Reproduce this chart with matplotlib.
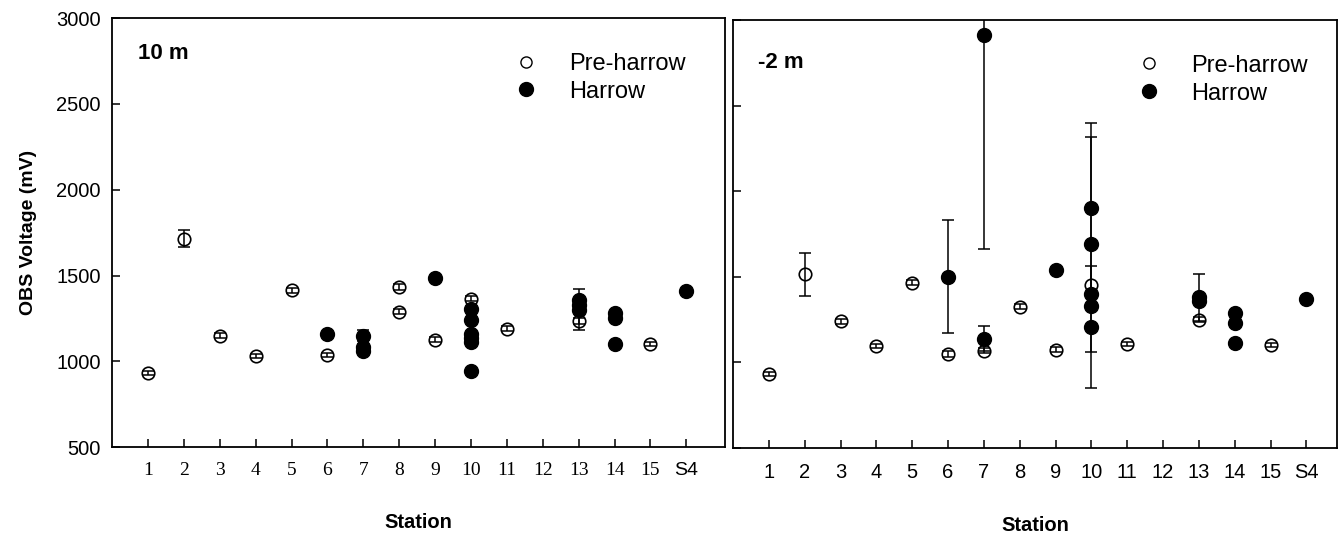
import matplotlib
matplotlib.use('Agg')
import matplotlib.pyplot as plt
from matplotlib.lines import Line2D

# Station tick labels (positions 1..16)
STATIONS = ['1', '2', '3', '4', '5', '6', '7', '8', '9', '10',
            '11', '12', '13', '14', '15', 'S4']

# 10 m panel
pre_x_10 = [1, 2, 3, 4, 5, 6, 7, 8, 8, 9, 10, 11, 13, 15]
pre_y_10 = [930, 1715, 1150, 1030, 1415, 1035, 1075, 1435, 1290, 1125, 1365, 1190, 1235, 1100]
pre_err_10 = [12, 50, 15, 12, 15, 12, 15, 18, 15, 15, 15, 15, 18, 12]
har_x_10 = [6, 7, 7, 7, 9, 10, 10, 10, 10, 10, 10, 13, 13, 13, 14, 14, 14, 16]
har_y_10 = [1160, 1150, 1085, 1062, 1485, 1305, 1240, 1160, 1135, 1115, 945,
            1360, 1330, 1300, 1280, 1250, 1100, 1410]
har_lo_10 = [0, 30, 0, 0, 0, 0, 0, 0, 0, 0, 0, 0, 0, 120, 0, 0, 0, 0]
har_hi_10 = [0, 30, 0, 0, 0, 0, 0, 0, 0, 0, 0, 0, 0, 120, 0, 0, 0, 0]

# -2 m panel
pre_x_2 = [1, 2, 3, 4, 5, 6, 7, 8, 9, 10, 11, 13, 15]
pre_y_2 = [935, 1515, 1240, 1095, 1465, 1050, 1070, 1325, 1075, 1450, 1110, 1250, 1100]
pre_err_2 = [12, 125, 15, 12, 15, 15, 15, 15, 15, 115, 12, 15, 12]
har_x_2 = [6, 7, 7, 9, 10, 10, 10, 10, 10, 13, 13, 14, 14, 14, 16]
har_y_2 = [1500, 2915, 1140, 1540, 1900, 1690, 1400, 1330, 1210, 1380, 1360, 1290, 1230, 1115, 1370]
har_lo_2 = [330, 1250, 75, 0, 1050, 630, 0, 0, 0, 135, 0, 0, 0, 0, 0]
har_hi_2 = [330, 1250, 75, 0, 500, 630, 0, 0, 0, 135, 0, 0, 0, 0, 0]

SANS = 'Liberation Sans'
SERIF = 'Liberation Serif'


def draw_panel(ax, pre, har, label, label_y, legend_x, serif_ticks):
    px, py, perr = pre
    hx, hy, hlo, hhi = har
    # Open circles (pre-harrow)
    ax.plot(px, py, 'o', ms=9, mfc='white', mec='black', mew=1.2,
            ls='none', zorder=2)
    # Filled circles (harrow)
    ax.plot(hx, hy, 'o', ms=10, mfc='black', mec='black',
            ls='none', zorder=2.5)
    # Error bars drawn on top so caps show through open markers
    ax.errorbar(px, py, yerr=perr, fmt='none', ecolor='black',
                elinewidth=1.1, capsize=4.5, capthick=1.1, zorder=3)
    ax.errorbar(hx, hy, yerr=[hlo, hhi], fmt='none', ecolor='black',
                elinewidth=1.1, capsize=4.5, capthick=1.1, zorder=3)

    ax.set_ylim(500, 3000)
    ax.set_yticks([500, 1000, 1500, 2000, 2500, 3000])
    ax.set_xticks(range(1, 17))
    ax.tick_params(direction='in', length=6, width=1.1)
    for s in ax.spines.values():
        s.set_linewidth(1.3)

    if serif_ticks:
        ax.set_xticklabels(STATIONS, fontsize=14, family=SERIF)
        ax.get_xticklabels()[-1].set_family(SANS)
    else:
        ax.set_xticklabels(STATIONS, fontsize=14.5, family=SANS)
    ax.tick_params(axis='x', pad=11)

    ax.set_xlabel('Station', fontsize=14.5, fontweight='bold', family=SANS,
                  labelpad=24)
    ax.text(0.042, label_y, label, transform=ax.transAxes, fontsize=16,
            fontweight='bold', family=SANS, va='center')

    handles = [
        Line2D([], [], marker='o', ls='none', ms=8, mfc='white', mec='black', mew=1.0),
        Line2D([], [], marker='o', ls='none', ms=10, mfc='black', mec='black'),
    ]
    ax.legend(handles, ['Pre-harrow', 'Harrow'], loc='upper left',
              bbox_to_anchor=(legend_x, 0.969), frameon=False,
              prop={'family': SANS, 'size': 17}, handlelength=1.0,
              handletextpad=1.3, labelspacing=0.25)


figure = plt.figure(figsize=(13.42, 5.36), dpi=100)
ax1 = figure.add_axes([0.0835, 0.166, 0.4568, 0.80])
ax2 = figure.add_axes([0.5462, 0.164, 0.4500, 0.7985])

draw_panel(ax1, (pre_x_10, pre_y_10, pre_err_10),
           (har_x_10, har_y_10, har_lo_10, har_hi_10), '10 m', 0.918, 0.622, True)
ax1.set_xlim(0, 17.08)
ax1.tick_params(axis='y', pad=8)
ax1.set_ylabel('OBS Voltage (mV)', fontsize=14, fontweight='bold',
               family=SANS, labelpad=14)
for t in ax1.get_yticklabels():
    t.set_family(SANS)
    t.set_fontsize(14.5)

draw_panel(ax2, (pre_x_2, pre_y_2, pre_err_2),
           (har_x_2, har_y_2, har_lo_2, har_hi_2), '-2 m', 0.90, 0.634, False)
ax2.set_xlim(0, 16.85)
ax2.set_yticklabels([])

figure.savefig('out.png', dpi=100)
